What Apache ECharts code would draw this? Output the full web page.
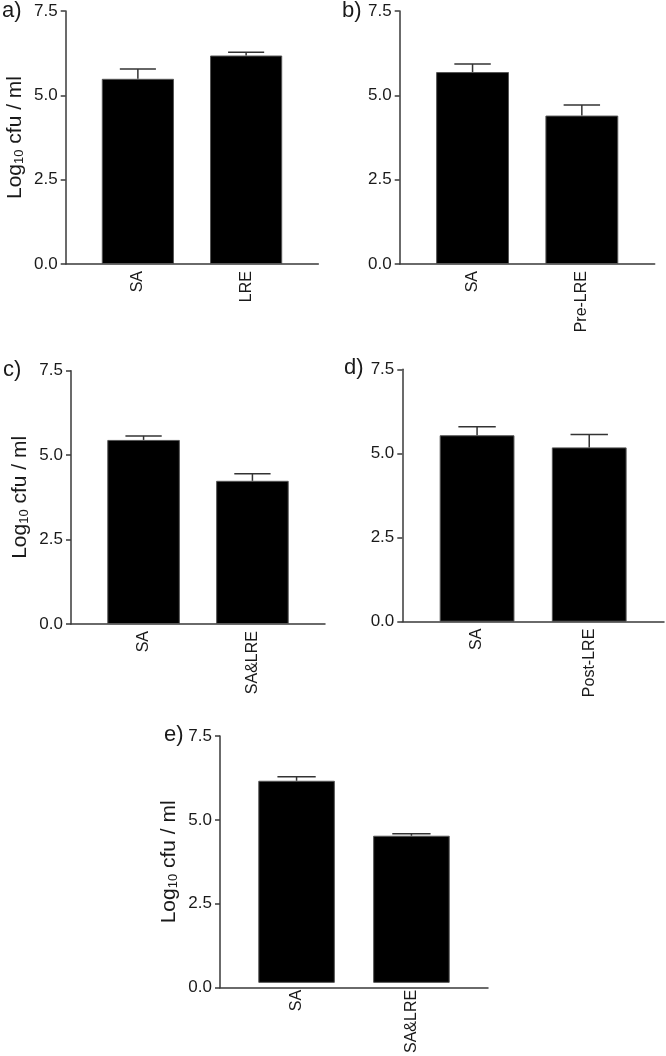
<!DOCTYPE html>
<html>
<head>
<meta charset="utf-8">
<script src="https://cdn.jsdelivr.net/npm/echarts@6/dist/echarts.min.js"></script>
<style>
html,body{margin:0;padding:0;background:#fff;}
#chart{width:666px;height:1056px;}
</style>
</head>
<body>
<div id="chart"></div>
<script>
// ---- data ----
const yTicks = [0, 2.5, 5, 7.5];
const panelLetters = ['a)', 'b)', 'c)', 'd)', 'e)'];

const catsA = ['SA', 'LRE'];
const meanA = [5.49, 6.18];
const errA  = [0.29, 0.10];

const catsB = ['SA', 'Pre-LRE'];
const meanB = [5.69, 4.40];
const errB  = [0.24, 0.31];

const catsC = ['SA', 'SA&LRE'];
const meanC = [5.45, 4.24];
const errC  = [0.12, 0.21];

const catsD = ['SA', 'Post-LRE'];
const meanD = [5.54, 5.18];
const errD  = [0.25, 0.38];

const catsE = ['SA', 'SA&LRE'];
const meanE = [6.14, 4.47];
const errE  = [0.12, 0.06];

// ---- layout (pixels) ----
const layout = [
  {left: 65.7,  right: 318.3, top: 11,    bottom: 264,   title: true,  lx: 2,   ly: 0},
  {left: 399.7, right: 654.7, top: 11,    bottom: 264,   title: false, lx: 342, ly: 0},
  {left: 71,    right: 325,   top: 370.7, bottom: 624,   title: true,  lx: 3,   ly: 359},
  {left: 402.3, right: 664,   top: 369.3, bottom: 621.7, title: false, lx: 344, ly: 357},
  {left: 220,   right: 488,   top: 736,   bottom: 987.7, title: true,  lx: 164, ly: 724}
];

const panelData = [
  [catsA, meanA, errA],
  [catsB, meanB, errB],
  [catsC, meanC, errC],
  [catsD, meanD, errD],
  [catsE, meanE, errE]
];

const FONT = 'Liberation Sans, Arial, Helvetica, sans-serif';
const AXIS_COLOR = '#3a3a3a';
const TEXT_COLOR = '#1a1a1a';

const grid = [], xAxis = [], yAxis = [], series = [], title = [];

layout.forEach((p, i) => {
  const L = p.right - p.left;
  const inset = L / 14;
  const outer = i * 2, inner = i * 2 + 1;
  const [cats, means, errs] = panelData[i];

  grid.push({left: p.left, top: p.top, width: L, height: p.bottom - p.top});
  grid.push({left: p.left + inset, top: p.top, width: L - 2 * inset, height: p.bottom - p.top});

  // outer axes (axis lines + y labels)
  xAxis.push({
    type: 'value', gridIndex: outer, min: 0, max: 1,
    axisLine: {show: true, onZero: false, lineStyle: {color: AXIS_COLOR, width: 1.5}},
    axisTick: {show: false}, axisLabel: {show: false}, splitLine: {show: false}
  });
  yAxis.push({
    type: 'value', gridIndex: outer, min: yTicks[0], max: yTicks[yTicks.length - 1], interval: 2.5,
    axisLine: {show: true, onZero: false, lineStyle: {color: AXIS_COLOR, width: 1.5}},
    axisTick: {show: true, inside: false, length: 5, lineStyle: {color: AXIS_COLOR, width: 1.5}},
    axisLabel: {fontSize: 17, color: TEXT_COLOR, fontFamily: FONT, margin: 8,
                formatter: v => v.toFixed(1)},
    splitLine: {show: false},
    name: p.title ? '{a|Log}{s|10}{a| cfu / ml}' : '',
    nameLocation: 'middle', nameRotate: 90, nameGap: 40,
    nameTextStyle: {
      color: TEXT_COLOR, fontFamily: FONT, fontSize: 21,
      rich: {
        a: {fontSize: 21, fontFamily: FONT, color: TEXT_COLOR, verticalAlign: 'bottom', lineHeight: 24},
        s: {fontSize: 13, fontFamily: FONT, color: TEXT_COLOR, verticalAlign: 'bottom', lineHeight: 20}
      }
    }
  });

  // inner axes (bars + category labels)
  xAxis.push({
    type: 'category', gridIndex: inner, data: cats,
    axisLine: {show: false}, axisTick: {show: false},
    axisLabel: {rotate: 90, fontSize: 16, color: TEXT_COLOR, fontFamily: FONT, margin: 7, interval: 0}
  });
  yAxis.push({
    type: 'value', gridIndex: inner, min: yTicks[0], max: yTicks[yTicks.length - 1], show: false
  });

  series.push({
    type: 'bar', xAxisIndex: inner, yAxisIndex: inner,
    data: means, barWidth: '66.67%',
    itemStyle: {color: '#000', borderColor: '#555', borderWidth: 1},
    silent: true, z: 2
  });

  series.push({
    type: 'custom', xAxisIndex: inner, yAxisIndex: inner, z: 3, silent: true,
    data: means.map((m, k) => [k, m, m + errs[k]]),
    encode: {x: 0, y: [1, 2]},
    renderItem: (params, api) => {
      const x = api.value(0);
      const p0 = api.coord([x, api.value(1)]);
      const p1 = api.coord([x, api.value(2)]);
      const band = api.size([1, 0])[0];
      const hw = band / 6;
      const st = {stroke: '#333', lineWidth: 1.5};
      return {type: 'group', children: [
        {type: 'line', shape: {x1: p0[0], y1: p0[1], x2: p1[0], y2: p1[1]}, style: st},
        {type: 'line', shape: {x1: p1[0] - hw, y1: p1[1], x2: p1[0] + hw, y2: p1[1]}, style: st}
      ]};
    }
  });

  title.push({
    text: panelLetters[i], left: p.lx, top: p.ly, padding: 0,
    textStyle: {fontSize: 22, fontWeight: 'normal', color: TEXT_COLOR, fontFamily: FONT}
  });
});

const chart = echarts.init(document.getElementById('chart'), null, {renderer: 'canvas'});
chart.setOption({
  backgroundColor: '#fff',
  animation: false,
  title, grid, xAxis, yAxis, series
});
</script>
</body>
</html>
